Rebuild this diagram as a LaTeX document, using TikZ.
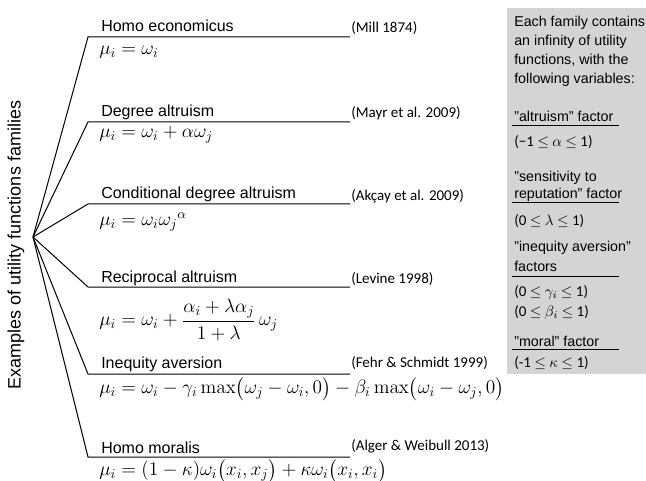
\RequirePackage{fix-cm}
\documentclass[tikz,border=0pt]{standalone}
\usepackage{amsmath}
\usepackage[no-math]{fontspec}
\setmainfont{Liberation Sans}
\newfontfamily\citefont{Carlito}
\definecolor{boxgray}{RGB}{212,212,212}

\begin{document}
\begin{tikzpicture}[x=0.75pt,y=-0.75pt,
  ttl/.style={anchor=base west,inner sep=0pt,font=\fontsize{12}{14}\selectfont},
  frm/.style={anchor=west,inner sep=0pt,font=\fontsize{14.5}{17}\selectfont},
  cite/.style={anchor=base west,inner sep=0pt,font=\citefont\fontsize{11.25}{13}\selectfont},
  boxtxt/.style={anchor=base west,inner sep=0pt,font=\fontsize{10.7}{14.25}\selectfont},
  rng/.style={anchor=base west,inner sep=0pt,font=\citefont\fontsize{11.25}{13}\selectfont},
  branch/.style={line width=0.75pt},
  uline/.style={line width=0.75pt}]
  \useasboundingbox (0,0) rectangle (646,481);
  \coordinate (root) at (33,237);
  % side label
  \node[rotate=90,inner sep=0pt,font=\fontsize{13.5}{16}\selectfont] (famlab) at (16,245) {Examples of utility functions families};
  % homo economicus
  \coordinate (c1) at (88,37);
  \coordinate (e1) at (350,37);
  \draw[branch] (root)--(c1)--(e1);
  \node[ttl] (t1) at (101,32) {Homo economicus};
  \node[frm] (f1) at (99,52) {$\mu_i = \omega_i$};
  \node[cite] (r1) at (351,33) {(Mill 1874)};
  % degree altruism
  \coordinate (c2) at (88,122);
  \coordinate (e2) at (350,122);
  \draw[branch] (root)--(c2)--(e2);
  \node[ttl] (t2) at (101,117) {Degree altruism};
  \node[frm] (f2) at (99,135) {$\mu_i = \omega_i + \alpha\omega_j$};
  \node[cite] (r2) at (351,118) {(Mayr et al. 2009)};
  % conditional degree altruism
  \coordinate (c3) at (88,204);
  \coordinate (e3) at (350,204);
  \draw[branch] (root)--(c3)--(e3);
  \node[ttl] (t3) at (101,199) {Conditional degree altruism};
  \node[frm] (f3) at (99,222) {$\mu_i = \omega_i{\omega_j}^{\alpha}$};
  \node[cite] (r3) at (351,200) {(Akçay et al. 2009)};
  % reciprocal altruism
  \coordinate (c4) at (88,287);
  \coordinate (e4) at (350,287);
  \draw[branch] (root)--(c4)--(e4);
  \node[ttl] (t4) at (101,282) {Reciprocal altruism};
  \node[frm] (f4) at (99,320) {$\mu_i = \omega_i + \dfrac{\alpha_i + \lambda\alpha_j}{1+\lambda}\,\omega_j$};
  \node[cite] (r4) at (351,283) {(Levine 1998)};
  % inequity aversion
  \coordinate (c5) at (88,374);
  \coordinate (e5) at (350,374);
  \draw[branch] (root)--(c5)--(e5);
  \node[ttl] (t5) at (101,368) {Inequity aversion};
  \node[frm] (f5) at (99,389) {$\mu_i = \omega_i - \gamma_i \max\bigl(\omega_j - \omega_i, 0\bigr) - \beta_i \max\bigl(\omega_i - \omega_j, 0\bigr)$};
  \node[cite] (r5) at (351,367) {(Fehr \& Schmidt 1999)};
  % homo moralis
  \coordinate (c6) at (88,457);
  \coordinate (e6) at (350,457);
  \draw[branch] (root)--(c6)--(e6);
  \node[ttl] (t6) at (101,453) {Homo moralis};
  \node[frm] (f6) at (99,471) {$\mu_i = (1-\kappa)\omega_i\bigl(x_i, x_j\bigr) + \kappa\omega_i\bigl(x_i, x_i\bigr)$};
  \node[cite] (r6) at (351,450) {(Alger \& Weibull 2013)};
  % variables box
  \fill[boxgray] (507,8) rectangle (646,374);
  \node[boxtxt,align=left,anchor=north west] (intro) at (514,16) {Each family contains\\an infinity of utility\\functions, with the\\following variables:};
  \node[boxtxt] (fa) at (514,122) {"altruism" factor};
  \draw[uline] (512,126) -- (619,126);
  \node[rng] (ra) at (514,147) {(−1 $\leq$ $\alpha$ $\leq$ 1)};
  \node[boxtxt] (fs1) at (514,181) {"sensitivity to};
  \node[boxtxt] (fs2) at (514,199) {reputation" factor};
  \draw[uline] (512,203) -- (619,203);
  \node[rng] (rs) at (514,225) {(0 $\leq$ $\lambda$ $\leq$ 1)};
  \node[boxtxt] (fi1) at (514,251) {"inequity aversion"};
  \node[boxtxt] (fi2) at (514,271) {factors};
  \draw[uline] (512,276) -- (619,276);
  \node[rng] (rg) at (514,296) {(0 $\leq$ $\gamma_i$ $\leq$ 1)};
  \node[rng] (rb) at (514,316) {(0 $\leq$ $\beta_i$ $\leq$ 1)};
  \node[boxtxt] (fm) at (514,346) {"moral" factor};
  \draw[uline] (512,349) -- (619,349);
  \node[rng] (rm) at (514,367) {(-1 $\leq$ $\kappa$ $\leq$ 1)};
\end{tikzpicture}
\end{document}
